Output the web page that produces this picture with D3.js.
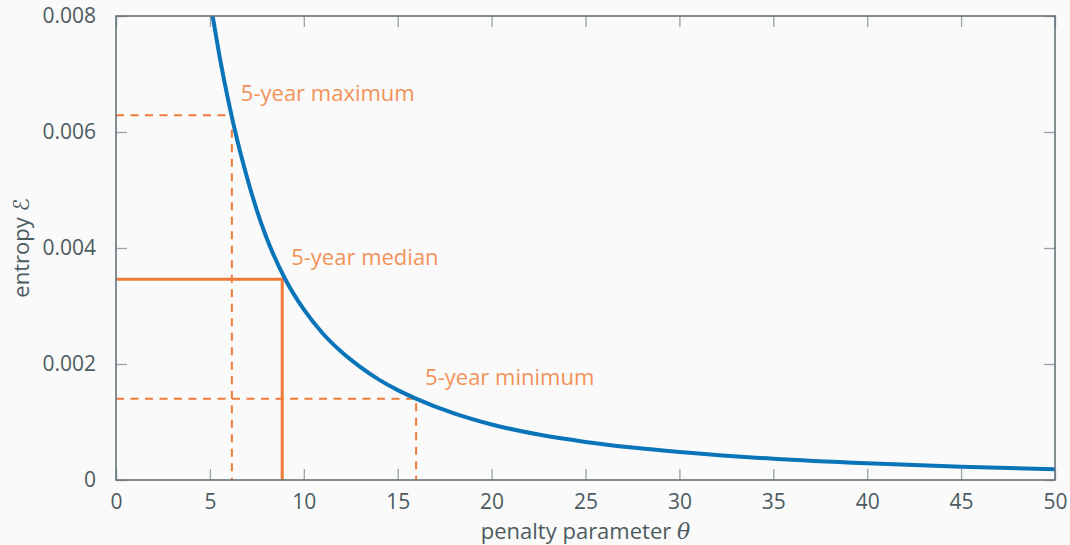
<!DOCTYPE html>
<html>
<head>
<meta charset="utf-8">
<script src="https://cdn.jsdelivr.net/npm/d3@7/dist/d3.min.js"></script>
<style>
  html, body { margin: 0; padding: 0; background: #fafafa; }
  svg { display: block; font-family: "Open Sans", "Noto Sans", sans-serif; }
</style>
</head>
<body>
<svg id="chart" width="1070" height="545"></svg>
<script>
// Entropy as a function of the penalty parameter
const theta   = [5.14, 5.5, 6.0, 6.5, 7.0, 7.5, 8.0, 9.0, 10, 11, 12, 13, 14, 15, 16, 18, 20, 22.5, 25, 27.5, 30, 35, 40, 45, 50];
const entropy = [0.00801, 0.00733, 0.00651, 0.00580, 0.00519, 0.00465, 0.00419, 0.00347, 0.00294, 0.00253, 0.00221, 0.00195, 0.00173, 0.00155, 0.00140, 0.001148, 0.000957, 0.000783, 0.000657, 0.000560, 0.000483, 0.000366, 0.000287, 0.000229, 0.000186];

// Reference levels over five years
const refLabels  = ["5-year maximum", "5-year median", "5-year minimum"];
const refTheta   = [6.17, 8.85, 15.98];
const refEntropy = [0.00629, 0.00346, 0.00140];
const refDashed  = [true, false, true];

const xTicks = [0, 5, 10, 15, 20, 25, 30, 35, 40, 45, 50];
const yTicks = [0, 0.002, 0.004, 0.006, 0.008];

const svg = d3.select("#chart");
const plotLeft = 116, plotRight = 1055, plotTop = 16, plotBottom = 480;

const x = d3.scaleLinear().domain([0, 50]).range([plotLeft, plotRight]);
const y = d3.scaleLinear().domain([0, 0.008]).range([plotBottom, plotTop]);

const textColor = "#4c5b5f";
const frameColor = "#66737a";
const tickColor = "#9aa2a6";
const orange = "#f07b38";
const orangeText = "#f29258";
const blue = "#0a74b9";

svg.append("defs").append("clipPath").attr("id", "plot-clip")
  .append("rect").attr("x", plotLeft).attr("y", plotTop)
  .attr("width", plotRight - plotLeft).attr("height", plotBottom - plotTop);

// Ticks on all four sides, pointing inward
const tickLen = 11;
const g = svg.append("g");
const xAxisB = d3.axisBottom(x).tickValues(xTicks).tickSizeInner(-tickLen).tickSizeOuter(0).tickPadding(14)
  .tickFormat(d3.format("d"));
const xAxisT = d3.axisTop(x).tickValues(xTicks).tickSizeInner(-tickLen).tickSizeOuter(0).tickFormat("");
const yAxisL = d3.axisLeft(y).tickValues(yTicks).tickSizeInner(-tickLen).tickSizeOuter(0).tickPadding(20)
  .tickFormat(d => d === 0 ? "0" : d3.format(".3f")(d));
const yAxisR = d3.axisRight(y).tickValues(yTicks).tickSizeInner(-tickLen).tickSizeOuter(0).tickFormat("");

function styleAxis(sel) {
  sel.select(".domain").remove();
  sel.selectAll(".tick line").attr("stroke", tickColor).attr("stroke-width", 1.3);
  sel.selectAll(".tick text").attr("fill", textColor).style("font-size", "21px")
    .style("font-family", "'Open Sans', sans-serif");
}
g.append("g").attr("transform", `translate(0,${plotBottom})`).call(xAxisB).call(styleAxis);
g.append("g").attr("transform", `translate(0,${plotTop})`).call(xAxisT).call(styleAxis);
g.append("g").attr("transform", `translate(${plotLeft},0)`).call(yAxisL).call(styleAxis);
g.append("g").attr("transform", `translate(${plotRight},0)`).call(yAxisR).call(styleAxis);

// Reference lines
const refs = refLabels.map((label, i) => ({ label, t: refTheta[i], e: refEntropy[i], dashed: refDashed[i] }));
const refG = svg.append("g").attr("clip-path", "url(#plot-clip)");
refs.forEach(r => {
  refG.append("path")
    .attr("d", `M${x(0)},${y(r.e)}H${x(r.t)}V${y(0)}`)
    .attr("fill", "none")
    .attr("stroke", orange)
    .attr("stroke-width", r.dashed ? 2 : 3)
    .attr("stroke-dasharray", r.dashed ? "8,6.5" : null);
});

// Entropy curve
const line = d3.line().x((d, i) => x(theta[i])).y(d => y(d)).curve(d3.curveMonotoneX);
svg.append("path")
  .attr("clip-path", "url(#plot-clip)")
  .attr("d", line(entropy))
  .attr("fill", "none")
  .attr("stroke", blue)
  .attr("stroke-width", 4);

// Reference labels
refs.forEach(r => {
  svg.append("text")
    .attr("x", x(r.t) + 9)
    .attr("y", y(r.e) - 14)
    .attr("fill", orangeText)
    .style("font-size", "22px")
    .text(r.label);
});

// Frame
svg.append("rect")
  .attr("x", plotLeft).attr("y", plotTop)
  .attr("width", plotRight - plotLeft).attr("height", plotBottom - plotTop)
  .attr("fill", "none").attr("stroke", frameColor).attr("stroke-width", 1.6);

// Axis titles
const xt = svg.append("text")
  .attr("x", (plotLeft + plotRight) / 2).attr("y", 539)
  .attr("text-anchor", "middle").attr("fill", textColor)
  .style("font-size", "22px");
xt.append("tspan").text("penalty parameter ");
xt.append("tspan").style("font-style", "italic").style("font-family", "'DejaVu Serif', serif").text("θ");

const yt = svg.append("text")
  .attr("transform", `translate(29,${(plotTop + plotBottom) / 2}) rotate(-90)`)
  .attr("text-anchor", "middle").attr("fill", textColor)
  .style("font-size", "22px");
yt.append("tspan").text("entropy ");
yt.append("tspan").style("font-family", "'DejaVu Sans', serif").style("font-style", "italic").text("ℰ");
</script>
</body>
</html>
